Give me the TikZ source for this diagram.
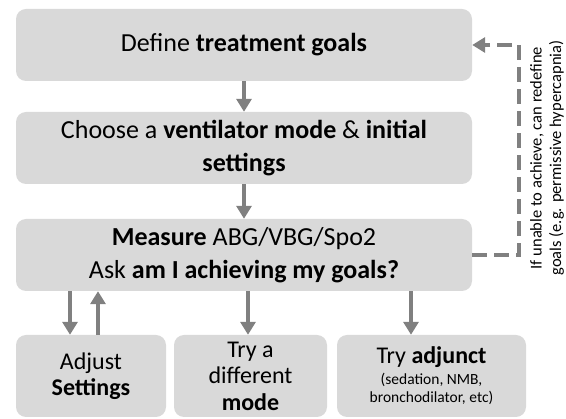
\documentclass[tikz,border=0pt]{standalone}
\usepackage{fontspec}
\setmainfont{Carlito}
\usepackage{xcolor}
\usetikzlibrary{arrows.meta}
\definecolor{boxgray}{HTML}{D9D9D9}
\definecolor{arrowgray}{HTML}{808080}
\newcommand{\bigtext}{\fontsize{26}{33}\selectfont}
\newcommand{\midtext}{\fontsize{24}{26.5}\selectfont}
\newcommand{\smalltext}{\fontsize{15.5}{18.5}\selectfont}

\begin{document}
\begin{tikzpicture}[x=1pt,y=-1pt,
  stepbox/.style={fill=boxgray,rounded corners=10pt,align=center,inner sep=0pt,
    minimum width=456pt,minimum height=72pt,font=\bigtext},
  actbox/.style={stepbox,minimum height=82pt,font=\midtext},
  arr/.style={draw=arrowgray,line width=4pt,-{Triangle[width=15pt,length=13pt]}},
  back/.style={arr,line width=4.5pt,dash pattern=on 15pt off 7pt}]
\useasboundingbox (0,0) rectangle (566,419);
%main steps
\node[stepbox] (goals) at (244,45) {Define \textbf{treatment goals}};
\node[stepbox] (mode) at (244,148) {Choose a \textbf{ventilator mode} \& \textbf{initial}\\\textbf{settings}};
\node[stepbox] (check) at (244,255) {\textbf{Measure} ABG/VBG/Spo2\\Ask \textbf{am I achieving my goals?}};
%options
\node[actbox,minimum width=150pt] (adjust) at (91,376) {Adjust\\\textbf{Settings}};
\node[actbox,minimum width=153pt] (other) at (250.5,376) {Try a\\different\\\textbf{mode}};
\node[actbox,minimum width=189pt,font=\smalltext] (adjunct) at (431.5,376)
  {{\midtext Try \textbf{adjunct}}\\[2pt](sedation, NMB,\\bronchodilator, etc)};
%arrows
\draw[arr] (goals) -- (mode);
\draw[arr] (mode) -- (check);
\draw[arr] (check.south -| 70,0) -- (adjust.north -| 70,0);
\draw[arr] (adjust.north -| 98,0) -- (check.south -| 98,0);
\draw[arr] (check.south -| 248,0) -- (other.north -| 248,0);
\draw[arr] (check.south -| 411,0) -- (adjunct.north -| 411,0);
%redefine goals
\draw[back] (check.east) -| ([xshift=47pt]goals.east) -- (goals.east);
\node[rotate=90,align=center,font=\fontsize{16.5}{19.5}\selectfont] (note) at (547,158)
  {If unable to achieve, can redefine\\goals (e.g. permissive hypercapnia)};
\end{tikzpicture}
\end{document}
